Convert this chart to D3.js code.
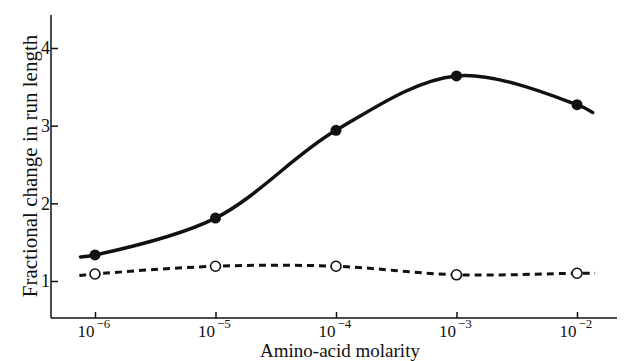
<!DOCTYPE html>
<html>
<head>
<meta charset="utf-8">
<script src="https://cdn.jsdelivr.net/npm/d3@7"></script>
<style>
  body { margin: 0; background: #fff; }
  svg { display: block; font-family: "Liberation Serif", "DejaVu Serif", serif; }
</style>
</head>
<body>
<svg id="chart" width="626" height="361"></svg>
<script>
// measured points (molarity, fractional change)
var molarity = [1e-6, 1e-5, 1e-4, 1e-3, 1e-2];
var filledValues = [1.335, 1.81, 2.94, 3.64, 3.27];
var openValues = [1.09, 1.19, 1.19, 1.08, 1.10];

// drawn curves run a little past the first and last points
var filledCurveX = [Math.pow(10, -6.12), 1e-6, 1e-5, 1e-4, 1e-3, 1e-2, Math.pow(10, -1.87)];
var filledCurveY = [1.31, 1.335, 1.81, 2.94, 3.64, 3.27, 3.17];
var openCurveX = [Math.pow(10, -6.13), 1e-6, 1e-5, 1e-4, 1e-3, 1e-2, Math.pow(10, -1.85)];
var openCurveY = [1.07, 1.09, 1.19, 1.19, 1.08, 1.10, 1.10];

var xTicks = [1e-6, 1e-5, 1e-4, 1e-3, 1e-2];
var xTickExp = ["\u22126", "\u22125", "\u22124", "\u22123", "\u22122"];
var yTicks = [1, 2, 3, 4];

var svg = d3.select("#chart");

var x = d3.scaleLog().domain([1e-6, 1e-2]).range([95, 577]);
var y = d3.scaleLinear().domain([1, 4]).range([281, 48]);

var axisX0 = 51, axisY0 = 318;

// axis lines
svg.append("line")
    .attr("x1", axisX0).attr("x2", axisX0)
    .attr("y1", 15).attr("y2", axisY0)
    .attr("stroke", "#111").attr("stroke-width", 1.5);
svg.append("line")
    .attr("x1", axisX0).attr("x2", 617)
    .attr("y1", axisY0).attr("y2", axisY0)
    .attr("stroke", "#111").attr("stroke-width", 1.5);

// y axis: ticks pointing inward, labels just left of the line
var yAxis = d3.axisLeft(y)
    .tickValues(yTicks)
    .tickSizeInner(-7)
    .tickSizeOuter(0)
    .tickPadding(1)
    .tickFormat(d3.format("d"));
var gy = svg.append("g")
    .attr("transform", "translate(" + axisX0 + ",0)")
    .call(yAxis);
gy.select(".domain").remove();
gy.selectAll(".tick line").attr("stroke", "#111").attr("stroke-width", 1.5);
gy.selectAll(".tick text")
    .attr("fill", "#111")
    .style("font-family", "Liberation Serif")
    .style("font-size", "18px");

// x axis: ticks pointing up, labels as 10 with superscript exponent
var xAxis = d3.axisBottom(x)
    .tickValues(xTicks)
    .tickSizeInner(-6)
    .tickSizeOuter(0)
    .tickFormat("");
var gx = svg.append("g")
    .attr("transform", "translate(0," + axisY0 + ")")
    .call(xAxis);
gx.select(".domain").remove();
gx.selectAll(".tick line").attr("stroke", "#111").attr("stroke-width", 1.5);
gx.selectAll(".tick").each(function (d, i) {
    var t = d3.select(this);
    t.select("text").remove();
    t.append("text")
        .attr("x", -1).attr("y", 19)
        .attr("text-anchor", "end")
        .attr("fill", "#111")
        .style("font-family", "Liberation Serif")
        .style("font-size", "17px")
        .text("10");
    t.append("text")
        .attr("x", 1).attr("y", 10)
        .attr("text-anchor", "start")
        .attr("fill", "#111")
        .style("font-family", "Liberation Serif")
        .style("font-size", "13px")
        .text(xTickExp[i]);
});

// axis titles
svg.append("text")
    .attr("x", 340).attr("y", 357)
    .attr("text-anchor", "middle")
    .attr("fill", "#111")
    .style("font-size", "19px")
    .text("Amino-acid molarity");
svg.append("text")
    .attr("transform", "translate(37,166) rotate(-90)")
    .attr("text-anchor", "middle")
    .attr("fill", "#111")
    .style("font-size", "21px")
    .text("Fractional change in run length");

// curves
var line = d3.line()
    .x(function (d) { return x(d[0]); })
    .y(function (d) { return y(d[1]); })
    .curve(d3.curveCatmullRom.alpha(0.5));

svg.append("path")
    .datum(d3.zip(filledCurveX, filledCurveY))
    .attr("d", line)
    .attr("fill", "none")
    .attr("stroke", "#111")
    .attr("stroke-width", 3.5)
    .attr("stroke-linecap", "round");

svg.append("path")
    .datum(d3.zip(openCurveX, openCurveY))
    .attr("d", line)
    .attr("fill", "none")
    .attr("stroke", "#111")
    .attr("stroke-width", 3)
    .attr("stroke-dasharray", "7,5");

// markers
svg.selectAll("circle.filled")
    .data(d3.zip(molarity, filledValues))
    .enter().append("circle")
    .attr("class", "filled")
    .attr("cx", function (d) { return x(d[0]); })
    .attr("cy", function (d) { return y(d[1]); })
    .attr("r", 5.5)
    .attr("fill", "#111");

svg.selectAll("circle.open")
    .data(d3.zip(molarity, openValues))
    .enter().append("circle")
    .attr("class", "open")
    .attr("cx", function (d) { return x(d[0]); })
    .attr("cy", function (d) { return y(d[1]); })
    .attr("r", 5)
    .attr("fill", "#fff")
    .attr("stroke", "#111")
    .attr("stroke-width", 1.6);
</script>
</body>
</html>
